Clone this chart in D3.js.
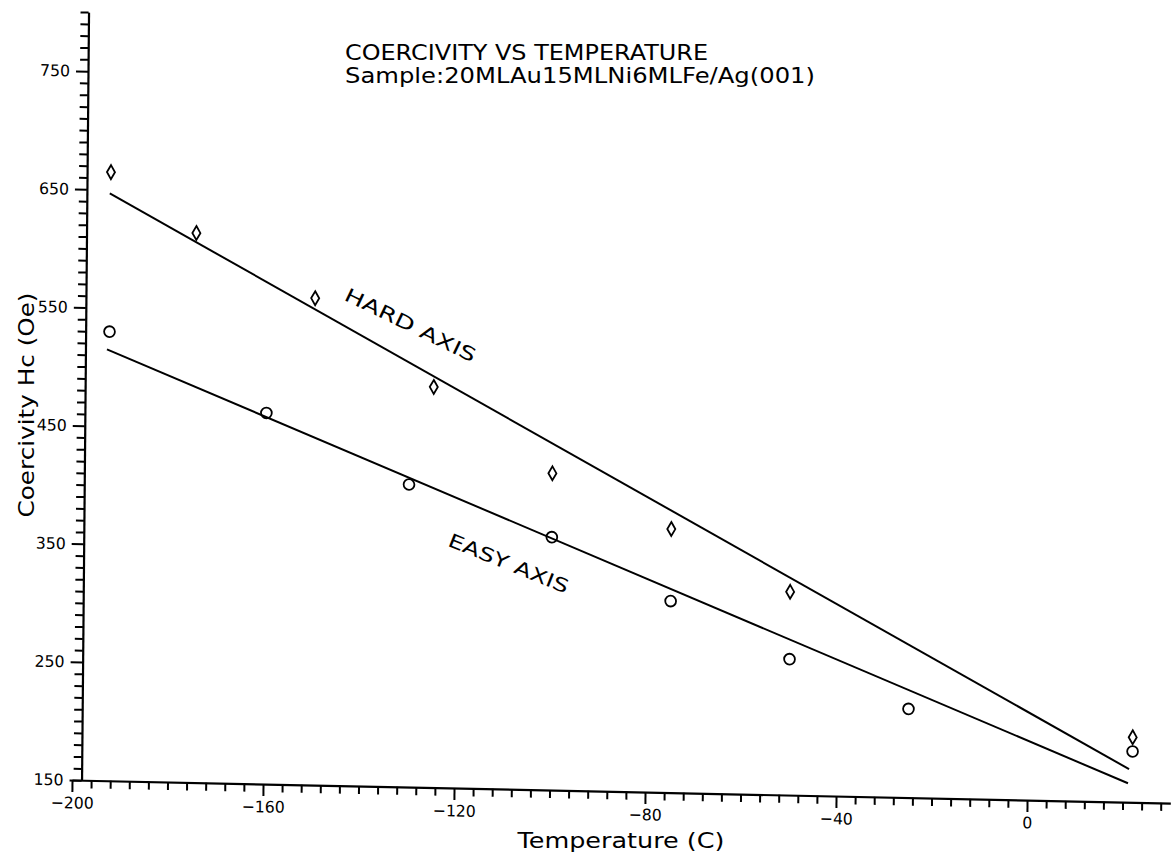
<!DOCTYPE html>
<html>
<head>
<meta charset="utf-8">
<script src="https://cdn.jsdelivr.net/npm/d3@7"></script>
<style>
  html, body { margin: 0; padding: 0; background: #fff; }
  text { font-family: "DejaVu Sans", sans-serif; fill: #000; }
</style>
</head>
<body>
<script>
// ---------- data ----------
const titleLines = ["COERCIVITY VS TEMPERATURE", "Sample:20MLAu15MLNi6MLFe/Ag(001)"];
const xLabel = "Temperature (C)";
const yLabel = "Coercivity Hc (Oe)";

const tempTicks = [-200, -160, -120, -80, -40, 0];
const hcTicks = [150, 250, 350, 450, 550, 650, 750];

// Hard axis (diamonds)
const hardT  = [-193, -175, -150, -125, -100, -75, -50, 22];
const hardHc = [665, 615, 562, 489, 418, 373, 322, 205];
// Easy axis (circles)
const easyT  = [-193, -160, -130, -100, -75, -50, -25, 22];
const easyHc = [530, 464, 406, 364, 312, 265, 225, 193];

// fitted straight lines (end points)
const hardFitT  = [-193.2, 21.3];
const hardFitHc = [647, 178];
const easyFitT  = [-193.5, 21.1];
const easyFitHc = [515, 166];

// in-plot labels
const seriesLabels = ["HARD AXIS", "EASY AXIS"];
const labelT  = [-130, -109];
const labelHc = [541, 341];
const labelAngle = [25, 21];
const labelLen = [143, 128];

// ---------- chart ----------
const W = 1174, H = 859;
const svg = d3.select("body").append("svg").attr("width", W).attr("height", H);

const x = d3.scaleLinear().domain([-200, 30]).range([72, 1170.3]);
const y = d3.scaleLinear().domain([150, 800]).range([780, 11.9]);
const yAxisAt = -198;

const ox = x(-200), oy = y(150);
// the scanned original is slightly skewed; reproduce with an affine transform
const g = svg.append("g")
  .attr("transform", `translate(${ox},${oy}) matrix(1,0.021,-0.0091,1,0,0) translate(${-ox},${-oy})`);

const fmt = d3.format("d");

// x axis
const minorT = d3.range(-200, 30, 4).filter(v => !tempTicks.includes(v));
const xMaj = g.append("g").attr("transform", `translate(0,${y(150)})`)
  .call(d3.axisBottom(x).tickValues(tempTicks).tickSize(12).tickPadding(5).tickSizeOuter(0).tickFormat(fmt));
const xMin = g.append("g").attr("transform", `translate(0,${y(150)})`)
  .call(d3.axisBottom(x).tickValues(minorT).tickSize(8).tickFormat(""));
xMin.select(".domain").remove();

// y axis
const minorHc = d3.range(150, 801, 10).filter(v => !hcTicks.includes(v));
const yMaj = g.append("g").attr("transform", `translate(${x(yAxisAt)},0)`)
  .call(d3.axisLeft(y).tickValues(hcTicks).tickSize(12).tickPadding(6).tickSizeOuter(0).tickFormat(fmt));
const yMin = g.append("g").attr("transform", `translate(${x(yAxisAt)},0)`)
  .call(d3.axisLeft(y).tickValues(minorHc).tickSize(8).tickFormat(""));
yMin.select(".domain").remove();

g.selectAll(".domain").attr("stroke", "#000").attr("stroke-width", 2.2);
g.selectAll(".tick line").attr("stroke", "#000").attr("stroke-width", 2);
const labelWidth = t => t.replace(/[^0-9]/g, "").length * 10 + (t.length > t.replace(/[^0-9]/g, "").length ? 13 : 0);
[xMaj, yMaj].forEach(ax => {
  ax.attr("font-size", 16).attr("font-family", "DejaVu Sans");
  ax.selectAll(".tick text")
    .style("font-size", "16px")
    .attr("textLength", function () { return labelWidth(this.textContent); })
    .attr("lengthAdjust", "spacingAndGlyphs");
});

// fit lines
const line = d3.line().x(d => x(d[0])).y(d => y(d[1]));
g.append("path").datum(d3.zip(hardFitT, hardFitHc)).attr("d", line)
  .attr("fill", "none").attr("stroke", "#000").attr("stroke-width", 2);
g.append("path").datum(d3.zip(easyFitT, easyFitHc)).attr("d", line)
  .attr("fill", "none").attr("stroke", "#000").attr("stroke-width", 2);

// markers
const diamond = d3.symbol().type(d3.symbolDiamond).size(56);
g.selectAll(".hard").data(d3.zip(hardT, hardHc)).join("path")
  .attr("class", "hard")
  .attr("d", diamond)
  .attr("transform", d => `translate(${x(d[0])},${y(d[1])})`)
  .attr("fill", "none").attr("stroke", "#000").attr("stroke-width", 1.8);

g.selectAll(".easy").data(d3.zip(easyT, easyHc)).join("circle")
  .attr("class", "easy")
  .attr("cx", d => x(d[0])).attr("cy", d => y(d[1])).attr("r", 5.4)
  .attr("fill", "none").attr("stroke", "#000").attr("stroke-width", 1.8);

// series labels
seriesLabels.forEach((s, i) => {
  g.append("text")
    .attr("transform", `translate(${x(labelT[i])},${y(labelHc[i])}) rotate(${labelAngle[i]})`)
    .attr("text-anchor", "middle").attr("dy", "0.35em")
    .attr("font-size", 19)
    .attr("textLength", labelLen[i]).attr("lengthAdjust", "spacingAndGlyphs")
    .text(s);
});

// title
svg.append("text").attr("x", 345).attr("y", 60).attr("font-size", 22)
  .attr("textLength", 363).attr("lengthAdjust", "spacingAndGlyphs").text(titleLines[0]);
svg.append("text").attr("x", 345).attr("y", 83).attr("font-size", 22)
  .attr("textLength", 470).attr("lengthAdjust", "spacingAndGlyphs").text(titleLines[1]);

// axis titles
svg.append("text").attr("x", 621).attr("y", 848).attr("text-anchor", "middle")
  .attr("font-size", 22).attr("textLength", 207).attr("lengthAdjust", "spacingAndGlyphs").text(xLabel);
svg.append("text").attr("transform", "translate(34,405) rotate(-90)").attr("text-anchor", "middle")
  .attr("font-size", 22).attr("textLength", 225).attr("lengthAdjust", "spacingAndGlyphs").text(yLabel);
</script>
</body>
</html>
